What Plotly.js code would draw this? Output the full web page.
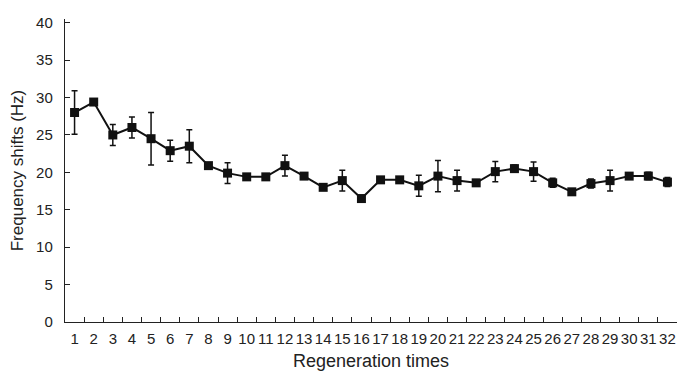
<!DOCTYPE html>
<html>
<head>
<meta charset="utf-8">
<script src="https://cdn.plot.ly/plotly-3.0.1.min.js"></script>
<style>html,body{margin:0;padding:0;background:#fff;}#chart{width:678px;height:371px;}</style>
</head>
<body>
<div id="chart"></div>
<script>
const categories = ["1","2","3","4","5","6","7","8","9","10","11","12","13","14","15","16","17","18","19","20","21","22","23","24","25","26","27","28","29","30","31","32"];
const shifts = [28.0,29.4,25.0,26.0,24.5,22.9,23.5,20.9,19.9,19.4,19.4,20.9,19.5,18.0,18.9,16.5,19.0,19.0,18.2,19.5,18.9,18.6,20.1,20.5,20.1,18.6,17.4,18.5,18.9,19.5,19.5,18.7];
const errors = [2.9,0.3,1.4,1.4,3.5,1.4,2.2,0.2,1.4,0.2,0.2,1.4,0.2,0.2,1.4,0.4,0.2,0.2,1.4,2.1,1.4,0.4,1.35,0.5,1.3,0.6,0.3,0.6,1.4,0.3,0.5,0.6];
const yTicks = [0,5,10,15,20,25,30,35,40];

const fam = "Liberation Sans, Arial, sans-serif";

const trace = {
  x: categories,
  y: shifts,
  type: "scatter",
  mode: "lines+markers",
  line: {color: "#111", width: 2},
  marker: {symbol: "square", size: 9, color: "#111"},
  error_y: {type: "data", array: errors, visible: true, color: "#111", thickness: 1.5, width: 3}
};

const layout = {
  width: 678, height: 371,
  margin: {l: 65, r: 1, t: 19, b: 49},
  paper_bgcolor: "#fff", plot_bgcolor: "#fff",
  showlegend: false,
  font: {family: fam, size: 15, color: "#222"},
  xaxis: {
    type: "category",
    tickson: "boundaries",
    range: [-0.5, 31.5],
    tickangle: 0,
    ticks: "inside", ticklen: 5, tickcolor: "#222", tickwidth: 1,
    ticklabelstandoff: 3,
    showline: true, linecolor: "#222", linewidth: 1.2,
    showgrid: false, zeroline: false,
    tickfont: {family: fam, size: 15, color: "#222"},
    title: {text: "Regeneration times", font: {family: fam, size: 18, color: "#222"}, standoff: 14}
  },
  yaxis: {
    range: [0, 40.5],
    tickvals: yTicks,
    ticktext: yTicks.map(String),
    ticks: "inside", ticklen: 5, tickcolor: "#222", tickwidth: 1,
    ticklabelstandoff: 8,
    showline: true, linecolor: "#222", linewidth: 1.2,
    showgrid: false, zeroline: false,
    tickfont: {family: fam, size: 15, color: "#222"},
    title: {text: "Frequency shifts (Hz)", font: {family: fam, size: 17, color: "#222"}, standoff: 8}
  }
};

Plotly.newPlot("chart", [trace], layout, {staticPlot: true, displayModeBar: false});
</script>
</body>
</html>
